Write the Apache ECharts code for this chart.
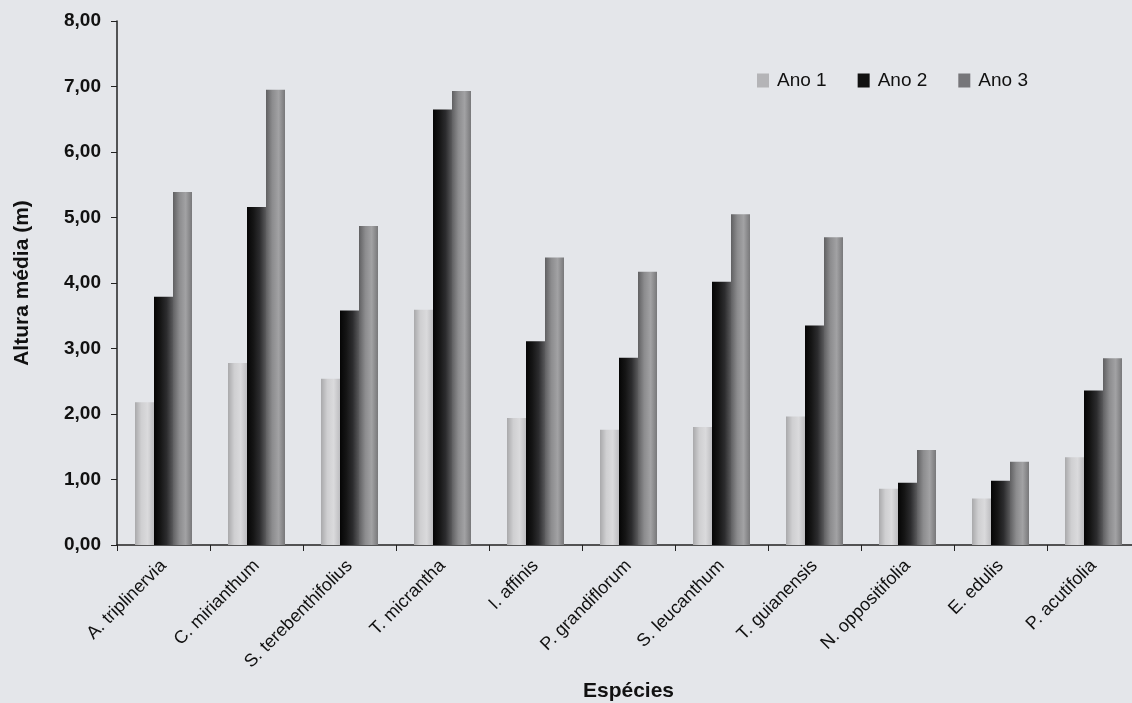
<!DOCTYPE html>
<html>
<head>
<meta charset="utf-8">
<script src="https://cdn.jsdelivr.net/npm/echarts@6/dist/echarts.min.js"></script>
<style>
  html, body { margin: 0; padding: 0; background: #e4e6ea; }
  #chart { width: 1132px; height: 703px; }
</style>
</head>
<body>
<div id="chart"></div>
<script>
// Species (x categories)
const species = [
  'A. triplinervia', 'C. mirianthum', 'S. terebenthifolius', 'T. micrantha',
  'I. affinis', 'P. grandiflorum', 'S. leucanthum', 'T. guianensis',
  'N. oppositifolia', 'E. edulis', 'P. acutifolia'
];

// Mean height (m) per year
const ano1 = [2.18, 2.78, 2.54, 3.59, 1.94, 1.76, 1.80, 1.96, 0.86, 0.71, 1.34];
const ano2 = [3.79, 5.16, 3.58, 6.65, 3.11, 2.86, 4.02, 3.35, 0.95, 0.98, 2.36];
const ano3 = [5.39, 6.95, 4.87, 6.93, 4.39, 4.17, 5.05, 4.70, 1.45, 1.27, 2.85];

const seriesNames = ['Ano 1', 'Ano 2', 'Ano 3'];

// Y axis range
const yMin = 0, yMax = 8, yStep = 1;

const fontFamily = 'Liberation Sans, Arial, sans-serif';

function grad(stops) {
  return {
    type: 'linear', x: 0, y: 0, x2: 1, y2: 0,
    colorStops: stops.map((c, i) => ({ offset: i / (stops.length - 1), color: c }))
  };
}

// Shaded fills giving the bars a rounded, cylinder-like look
const fills = [
  grad(['#a9a9ab', '#cfcfd1', '#dadadc', '#bdbdc0']),
  grad(['#050505', '#151515', '#2c2c2e', '#5a5a5c']),
  grad(['#606062', '#8c8c8e', '#a2a2a4', '#78787a'])
];
const legendFills = ['#b4b4b7', '#111111', '#76767a'];

const chart = echarts.init(document.getElementById('chart'), null, { renderer: 'canvas' });

chart.setOption({
  backgroundColor: '#e4e6ea',
  animation: false,
  legend: {
    left: 752,
    top: 66,
    itemWidth: 12,
    itemHeight: 14,
    itemGap: 31,
    icon: 'rect',
    textStyle: { fontFamily, fontSize: 19, color: '#111', padding: [0, 0, 0, 3] },
    data: seriesNames.map((n, i) => ({ name: n, itemStyle: { color: legendFills[i] } }))
  },
  grid: {
    left: 117, top: 21, width: 1023, height: 524,
    containLabel: false, outerBoundsMode: 'none'
  },
  xAxis: {
    type: 'category',
    data: species,
    name: 'Espécies',
    nameLocation: 'middle',
    nameGap: 136,
    nameTextStyle: { fontFamily, fontSize: 21, fontWeight: 'bold', color: '#111' },
    axisLine: { lineStyle: { color: '#222', width: 1.5 } },
    axisTick: { show: true, length: 6, lineStyle: { color: '#222' } },
    axisLabel: {
      interval: 0, rotate: 45, margin: 18,
      fontFamily, fontSize: 18, color: '#111'
    }
  },
  yAxis: {
    type: 'value',
    min: yMin, max: yMax, interval: yStep,
    name: 'Altura média (m)',
    nameLocation: 'middle',
    nameGap: 84,
    nameRotate: 90,
    nameTextStyle: { fontFamily, fontSize: 21, fontWeight: 'bold', color: '#111' },
    axisLine: { show: true, lineStyle: { color: '#222', width: 1.5 } },
    axisTick: { show: true, length: 6, lineStyle: { color: '#222' } },
    splitLine: { show: false },
    axisLabel: {
      margin: 16,
      fontFamily, fontSize: 19, fontWeight: 'bold', color: '#111',
      formatter: v => v.toFixed(2).replace('.', ',')
    }
  },
  series: [ano1, ano2, ano3].map((d, i) => ({
    name: seriesNames[i],
    type: 'bar',
    data: d,
    barWidth: 19,
    barGap: '0%',
    itemStyle: { color: fills[i] }
  }))
});
</script>
</body>
</html>
